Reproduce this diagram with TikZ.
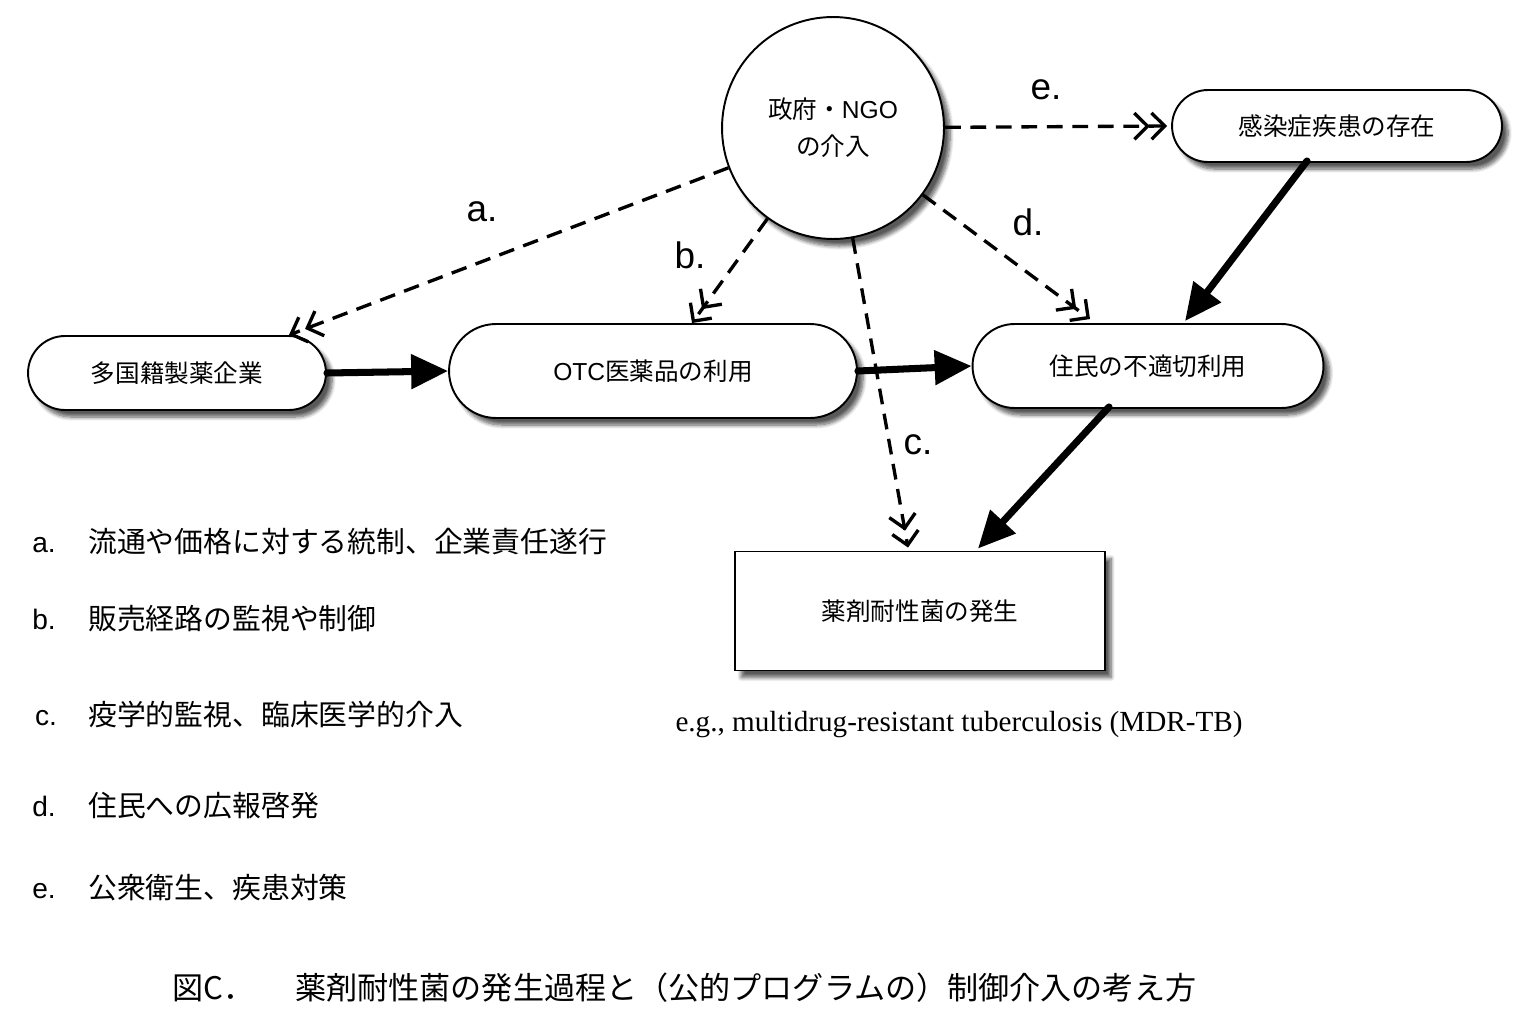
\documentclass[tikz,border=0pt]{standalone}
\usepackage{fontspec}
\setmainfont{Noto Sans CJK JP}
\newfontfamily\latinfont{Liberation Sans}
\newfontfamily\egfont{Liberation Serif}
\usetikzlibrary{arrows.meta,positioning,shapes.misc,calc,shadows.blur}

\tikzset{
  boxshadow/.style={blur shadow={shadow xshift=3.5pt, shadow yshift=-4pt, shadow blur steps=8, shadow opacity=65}},
  stadium/.style={draw, line width=1.1pt, fill=white, rounded rectangle, inner sep=0pt,
    font=\fontsize{14}{21}\selectfont, boxshadow},
  hub/.style={draw, circle, line width=1.1pt, fill=white, minimum size=4.44cm, align=center,
    font=\fontsize{14}{21}\selectfont, boxshadow},
  outcome/.style={draw, rectangle, line width=1.1pt, fill=white, minimum width=7.4cm, minimum height=2.38cm,
    font=\fontsize{14}{21}\selectfont, boxshadow},
  policy/.style={line width=1.9pt, dash pattern=on 9pt off 5.5pt,
    -{Straight Barb[length=7.5pt,width=15pt,line width=1.9pt]Straight Barb[length=7.5pt,width=15pt,line width=1.9pt]}},
  flow/.style={line width=4pt, line cap=round, -{Triangle[length=21pt,width=19pt]}},
  tag/.style={font=\latinfont\fontsize{21}{21}\selectfont, inner sep=0pt},
  legkey/.style={font=\latinfont\fontsize{16}{16}\selectfont, inner sep=0pt, anchor=base},
  legtext/.style={font=\fontsize{16.4}{16.4}\selectfont, inner sep=0pt, anchor=base west},
  caption/.style={font=\fontsize{17.7}{17.7}\selectfont, inner sep=0pt, anchor=west}
}

\begin{document}
\begin{tikzpicture}[x=0.02cm, y=-0.02cm]
  \useasboundingbox (0,0) rectangle (1523,1014);

  % main nodes
  \node[hub] (gov) at (833,128) {政府・{\latinfont NGO}\\の介入};
  \node[stadium, minimum width=6.6cm, minimum height=1.44cm] (disease) at (1337,126) {感染症疾患の存在};
  \node[stadium, minimum width=5.96cm, minimum height=1.48cm] (pharma) at (177,373) {多国籍製薬企業};
  \node[stadium, minimum width=8.16cm, minimum height=1.88cm] (otc) at (653,371) {{\latinfont OTC}医薬品の利用};
  \node[stadium, minimum width=7.02cm, minimum height=1.68cm] (misuse) at (1148,366) {住民の不適切利用};
  \node[outcome] (amr) at (920,611) {薬剤耐性菌の発生};
  \node[font=\egfont\fontsize{16.6}{16.6}\selectfont, inner sep=0pt] (eg) at (959,725) {e.g., multidrug-resistant tuberculosis (MDR-TB)};

  % interventions
  \draw[policy] (gov) -- (pharma.north east);
  \draw[policy] (gov) -- ($(otc.north)+(39,0)$);
  \draw[policy] (gov) -- ($(amr.north)+(-12,-3)$);
  \draw[policy] (gov) -- ($(misuse.north)+(-58,-4)$);
  \draw[policy] (gov) -- ($(disease.west)+(-4,0)$);
  \node[tag] (la) at (482,212) {a.};
  \node[tag] (lb) at (690,255) {b.};
  \node[tag] (lc) at (918,445) {c.};
  \node[tag] (ld) at (1028,222) {d.};
  \node[tag] (le) at (1046,90) {e.};

  % causal chain
  \draw[flow] (pharma.east) -- (otc.west);
  \draw[flow] (otc.east) -- (misuse.west);
  \draw[flow] ($(disease.south)+(-30,-2)$) -- ($(misuse.north)+(37,-2)$);
  \draw[flow] ($(misuse.south)+(-39,-2)$) -- ($(amr.north)+(58,-2)$);

  % legend
  \node[legkey] (ka) at (44,552) {a.};
  \node[legtext] (ta) at (88,552) {流通や価格に対する統制、企業責任遂行};
  \node[legkey] (kb) at (44,629) {b.};
  \node[legtext] (tb) at (88,629) {販売経路の監視や制御};
  \node[legkey] (kc) at (46,725) {c.};
  \node[legtext] (tc) at (88,725) {疫学的監視、臨床医学的介入};
  \node[legkey] (kd) at (44,816) {d.};
  \node[legtext] (td) at (88,816) {住民への広報啓発};
  \node[legkey] (ke) at (44,898) {e.};
  \node[legtext] (te) at (88,898) {公衆衛生、疾患対策};

  % caption
  \node[caption] (fig) at (172,988) {図C．};
  \node[caption] (title) at (295,988) {薬剤耐性菌の発生過程と（公的プログラムの）制御介入の考え方};
\end{tikzpicture}
\end{document}
